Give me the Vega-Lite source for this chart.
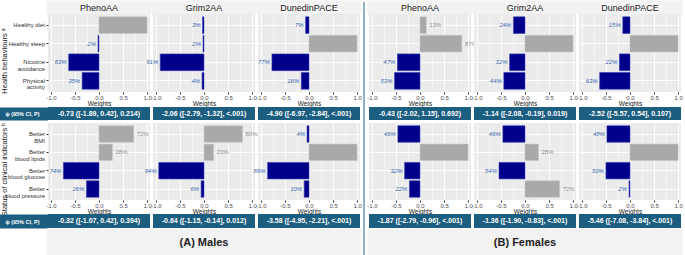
{
"$schema":"https://vega.github.io/schema/vega-lite/v6.json",
"padding":0,
"background":"white",
"config":{
 "font":"Liberation Sans",
 "view":{"stroke":null},
 "axisX":{"grid":true,"gridColor":"#ffffff","domain":false,"tickColor":"#333333","tickSize":2,"labelFontSize":6,"labelColor":"#4d4d4d","labelPadding":0.5,"labelFlush":false,"labelOverlap":false,"titleFontSize":6.5,"titleFontWeight":"normal","titleColor":"#1a1a1a","titlePadding":0},
 "axisY":{"grid":true,"gridColor":"#ffffff","gridWidth":0.9,"domain":false,"tickColor":"#333333","tickSize":2,"labelFontSize":6,"labelColor":"#333333","labelPadding":1.5,"labelLineHeight":6.5,"titleFontWeight":"normal","titleColor":"#1a1a1a","bandPosition":0.5}
},
"datasets":{
 "bars":[
  {"sex":"Males","dom":"HB","clock":"PhenoAA","item":"Healthy diet","w":1.0,"lab":""},
  {"sex":"Males","dom":"HB","clock":"PhenoAA","item":"Healthy sleep","w":-0.02,"lab":"2%"},
  {"sex":"Males","dom":"HB","clock":"PhenoAA","item":"Nicotine\navoidance","w":-0.63,"lab":"63%"},
  {"sex":"Males","dom":"HB","clock":"PhenoAA","item":"Physical\nactivity","w":-0.35,"lab":"35%"},
  {"sex":"Males","dom":"HB","clock":"Grim2AA","item":"Healthy diet","w":-0.03,"lab":"3%"},
  {"sex":"Males","dom":"HB","clock":"Grim2AA","item":"Healthy sleep","w":-0.02,"lab":"2%"},
  {"sex":"Males","dom":"HB","clock":"Grim2AA","item":"Nicotine\navoidance","w":-0.91,"lab":"91%"},
  {"sex":"Males","dom":"HB","clock":"Grim2AA","item":"Physical\nactivity","w":-0.04,"lab":"4%"},
  {"sex":"Males","dom":"HB","clock":"DunedinPACE","item":"Healthy diet","w":-0.07,"lab":"7%"},
  {"sex":"Males","dom":"HB","clock":"DunedinPACE","item":"Healthy sleep","w":1.0,"lab":""},
  {"sex":"Males","dom":"HB","clock":"DunedinPACE","item":"Nicotine\navoidance","w":-0.77,"lab":"77%"},
  {"sex":"Males","dom":"HB","clock":"DunedinPACE","item":"Physical\nactivity","w":-0.16,"lab":"16%"},
  {"sex":"Females","dom":"HB","clock":"PhenoAA","item":"Healthy diet","w":0.13,"lab":"13%"},
  {"sex":"Females","dom":"HB","clock":"PhenoAA","item":"Healthy sleep","w":0.87,"lab":"87%"},
  {"sex":"Females","dom":"HB","clock":"PhenoAA","item":"Nicotine\navoidance","w":-0.47,"lab":"47%"},
  {"sex":"Females","dom":"HB","clock":"PhenoAA","item":"Physical\nactivity","w":-0.53,"lab":"53%"},
  {"sex":"Females","dom":"HB","clock":"Grim2AA","item":"Healthy diet","w":-0.24,"lab":"24%"},
  {"sex":"Females","dom":"HB","clock":"Grim2AA","item":"Healthy sleep","w":1.0,"lab":""},
  {"sex":"Females","dom":"HB","clock":"Grim2AA","item":"Nicotine\navoidance","w":-0.32,"lab":"32%"},
  {"sex":"Females","dom":"HB","clock":"Grim2AA","item":"Physical\nactivity","w":-0.44,"lab":"44%"},
  {"sex":"Females","dom":"HB","clock":"DunedinPACE","item":"Healthy diet","w":-0.15,"lab":"15%"},
  {"sex":"Females","dom":"HB","clock":"DunedinPACE","item":"Healthy sleep","w":1.0,"lab":""},
  {"sex":"Females","dom":"HB","clock":"DunedinPACE","item":"Nicotine\navoidance","w":-0.22,"lab":"22%"},
  {"sex":"Females","dom":"HB","clock":"DunedinPACE","item":"Physical\nactivity","w":-0.63,"lab":"63%"},
  {"sex":"Males","dom":"CI","clock":"PhenoAA","item":"Better\nBMI","w":0.72,"lab":"72%"},
  {"sex":"Males","dom":"CI","clock":"PhenoAA","item":"Better\nblood lipids","w":0.28,"lab":"28%"},
  {"sex":"Males","dom":"CI","clock":"PhenoAA","item":"Better\nblood glucose","w":-0.74,"lab":"74%"},
  {"sex":"Males","dom":"CI","clock":"PhenoAA","item":"Better\nblood pressure","w":-0.26,"lab":"26%"},
  {"sex":"Males","dom":"CI","clock":"Grim2AA","item":"Better\nBMI","w":0.80,"lab":"80%"},
  {"sex":"Males","dom":"CI","clock":"Grim2AA","item":"Better\nblood lipids","w":0.20,"lab":"20%"},
  {"sex":"Males","dom":"CI","clock":"Grim2AA","item":"Better\nblood glucose","w":-0.94,"lab":"94%"},
  {"sex":"Males","dom":"CI","clock":"Grim2AA","item":"Better\nblood pressure","w":-0.06,"lab":"6%"},
  {"sex":"Males","dom":"CI","clock":"DunedinPACE","item":"Better\nBMI","w":-0.04,"lab":"4%"},
  {"sex":"Males","dom":"CI","clock":"DunedinPACE","item":"Better\nblood lipids","w":1.0,"lab":""},
  {"sex":"Males","dom":"CI","clock":"DunedinPACE","item":"Better\nblood glucose","w":-0.86,"lab":"86%"},
  {"sex":"Males","dom":"CI","clock":"DunedinPACE","item":"Better\nblood pressure","w":-0.10,"lab":"10%"},
  {"sex":"Females","dom":"CI","clock":"PhenoAA","item":"Better\nBMI","w":-0.46,"lab":"46%"},
  {"sex":"Females","dom":"CI","clock":"PhenoAA","item":"Better\nblood lipids","w":1.0,"lab":""},
  {"sex":"Females","dom":"CI","clock":"PhenoAA","item":"Better\nblood glucose","w":-0.32,"lab":"32%"},
  {"sex":"Females","dom":"CI","clock":"PhenoAA","item":"Better\nblood pressure","w":-0.22,"lab":"22%"},
  {"sex":"Females","dom":"CI","clock":"Grim2AA","item":"Better\nBMI","w":-0.46,"lab":"46%"},
  {"sex":"Females","dom":"CI","clock":"Grim2AA","item":"Better\nblood lipids","w":0.28,"lab":"28%"},
  {"sex":"Females","dom":"CI","clock":"Grim2AA","item":"Better\nblood glucose","w":-0.54,"lab":"54%"},
  {"sex":"Females","dom":"CI","clock":"Grim2AA","item":"Better\nblood pressure","w":0.72,"lab":"72%"},
  {"sex":"Females","dom":"CI","clock":"DunedinPACE","item":"Better\nBMI","w":-0.48,"lab":"48%"},
  {"sex":"Females","dom":"CI","clock":"DunedinPACE","item":"Better\nblood lipids","w":1.0,"lab":""},
  {"sex":"Females","dom":"CI","clock":"DunedinPACE","item":"Better\nblood glucose","w":-0.50,"lab":"50%"},
  {"sex":"Females","dom":"CI","clock":"DunedinPACE","item":"Better\nblood pressure","w":-0.02,"lab":"2%"}
 ],
 "psi":[
  {"sex":"Males","dom":"HB","clock":"PhenoAA","row":"ψ (95% CI, P)","psi":"-0.73 ([-1.89, 0.42], 0.214)"},
  {"sex":"Males","dom":"HB","clock":"Grim2AA","row":"ψ (95% CI, P)","psi":"-2.06 ([-2.79, -1.32], <.001)"},
  {"sex":"Males","dom":"HB","clock":"DunedinPACE","row":"ψ (95% CI, P)","psi":"-4.90 ([-6.97, -2.84], <.001)"},
  {"sex":"Females","dom":"HB","clock":"PhenoAA","row":"ψ (95% CI, P)","psi":"-0.43 ([-2.02, 1.15], 0.692)"},
  {"sex":"Females","dom":"HB","clock":"Grim2AA","row":"ψ (95% CI, P)","psi":"-1.14 ([-2.08, -0.19], 0.019)"},
  {"sex":"Females","dom":"HB","clock":"DunedinPACE","row":"ψ (95% CI, P)","psi":"-2.52 ([-5.57, 0.54], 0.107)"},
  {"sex":"Males","dom":"CI","clock":"PhenoAA","row":"ψ (95% CI, P)","psi":"-0.32 ([-1.07, 0.42], 0.394)"},
  {"sex":"Males","dom":"CI","clock":"Grim2AA","row":"ψ (95% CI, P)","psi":"-0.64 ([-1.15, -0.14], 0.012)"},
  {"sex":"Males","dom":"CI","clock":"DunedinPACE","row":"ψ (95% CI, P)","psi":"-3.58 ([-4.95, -2.21], <.001)"},
  {"sex":"Females","dom":"CI","clock":"PhenoAA","row":"ψ (95% CI, P)","psi":"-1.87 ([-2.79, -0.96], <.001)"},
  {"sex":"Females","dom":"CI","clock":"Grim2AA","row":"ψ (95% CI, P)","psi":"-1.36 ([-1.90, -0.83], <.001)"},
  {"sex":"Females","dom":"CI","clock":"DunedinPACE","row":"ψ (95% CI, P)","psi":"-5.46 ([-7.08, -3.84], <.001)"}
 ]
},
"spacing":1,
"hconcat":[
 {"columns":3,"align":"each","bounds":"flush","spacing":{"row":1,"column":3},
  "concat":[
   {"width":102,"height":11,"view":{"fill":"#f2f2f2","stroke":"#f2f2f2","strokeWidth":3},"data":{"values":[{"t":"PhenoAA"}]},"mark":{"type":"text","fontSize":9,"color":"#1a1a1a"},"encoding":{"text":{"field":"t"},"x":{"field":"t","type":"nominal","axis":null},"y":{"field":"t","type":"nominal","axis":null}}},
   {"width":102,"height":11,"view":{"fill":"#f2f2f2","stroke":"#f2f2f2","strokeWidth":3},"data":{"values":[{"t":"Grim2AA"}]},"mark":{"type":"text","fontSize":9,"color":"#1a1a1a"},"encoding":{"text":{"field":"t"},"x":{"field":"t","type":"nominal","axis":null},"y":{"field":"t","type":"nominal","axis":null}}},
   {"width":102,"height":11,"view":{"fill":"#f2f2f2","stroke":"#f2f2f2","strokeWidth":3},"data":{"values":[{"t":"DunedinPACE"}]},"mark":{"type":"text","fontSize":9,"color":"#1a1a1a"},"encoding":{"text":{"field":"t"},"x":{"field":"t","type":"nominal","axis":null},"y":{"field":"t","type":"nominal","axis":null}}},

   {"width":102,"height":78,"view":{"fill":"#ebebeb","stroke":null},"data":{"name":"bars"},
    "transform":[{"filter":"datum.sex=='Males' && datum.dom=='HB' && datum.clock=='PhenoAA'"}],
    "encoding":{
     "y":{"field":"item","type":"nominal","sort":null,"scale":{"paddingInner":0.1,"paddingOuter":0.15},"axis":{"title":"Health behaviours ᵃ","titleFontSize":7.5,"titleY":46.5,"titlePadding":0,"minExtent":40,"maxExtent":40,"labelExpr":"split(datum.label,'\\n')"}},
     "x":{"field":"w","type":"quantitative","scale":{"domain":[-1.06,1.06]},"axis":{"values":[-1,-0.75,-0.5,-0.25,0,0.25,0.5,0.75,1],"labelExpr":"datum.value % 0.5 === 0 ? replace(format(datum.value,'.1f'),'\u2212','-') : ''","title":"Weights","gridWidth":{"condition":{"test":"datum.value % 0.5 === 0","value":0.9},"value":0.4},"tickOpacity":{"condition":{"test":"datum.value % 0.5 === 0","value":1},"value":0}}}
    },
    "layer":[
     {"mark":{"type":"bar","strokeWidth":0.6},"encoding":{"color":{"condition":{"test":"datum.w < 0","value":"#00008b"},"value":"#a9a9a9"},"stroke":{"condition":{"test":"datum.w < 0","value":"#3a3ab4"},"value":"#c8c8c8"}}},
     {"transform":[{"filter":"datum.w < 0"}],"mark":{"type":"text","align":"right","baseline":"middle","dx":-2,"fontSize":6,"fontStyle":"italic","color":"#3b67b0"},"encoding":{"text":{"field":"lab"}}},
     {"transform":[{"filter":"datum.w > 0"}],"mark":{"type":"text","align":"left","baseline":"middle","dx":3,"fontSize":6,"color":"#8c8c8c"},"encoding":{"text":{"field":"lab"}}}
    ]},
   {"width":102,"height":78,"view":{"fill":"#ebebeb","stroke":null},"data":{"name":"bars"},
    "transform":[{"filter":"datum.sex=='Males' && datum.dom=='HB' && datum.clock=='Grim2AA'"}],
    "encoding":{
     "y":{"field":"item","type":"nominal","sort":null,"scale":{"paddingInner":0.1,"paddingOuter":0.15},"axis":{"title":null,"labels":false,"ticks":false}},
     "x":{"field":"w","type":"quantitative","scale":{"domain":[-1.06,1.06]},"axis":{"values":[-1,-0.75,-0.5,-0.25,0,0.25,0.5,0.75,1],"labelExpr":"datum.value % 0.5 === 0 ? replace(format(datum.value,'.1f'),'\u2212','-') : ''","title":"Weights","gridWidth":{"condition":{"test":"datum.value % 0.5 === 0","value":0.9},"value":0.4},"tickOpacity":{"condition":{"test":"datum.value % 0.5 === 0","value":1},"value":0}}}
    },
    "layer":[
     {"mark":{"type":"bar","strokeWidth":0.6},"encoding":{"color":{"condition":{"test":"datum.w < 0","value":"#00008b"},"value":"#a9a9a9"},"stroke":{"condition":{"test":"datum.w < 0","value":"#3a3ab4"},"value":"#c8c8c8"}}},
     {"transform":[{"filter":"datum.w < 0"}],"mark":{"type":"text","align":"right","baseline":"middle","dx":-2,"fontSize":6,"fontStyle":"italic","color":"#3b67b0"},"encoding":{"text":{"field":"lab"}}},
     {"transform":[{"filter":"datum.w > 0"}],"mark":{"type":"text","align":"left","baseline":"middle","dx":3,"fontSize":6,"color":"#8c8c8c"},"encoding":{"text":{"field":"lab"}}}
    ]},
   {"width":102,"height":78,"view":{"fill":"#ebebeb","stroke":null},"data":{"name":"bars"},
    "transform":[{"filter":"datum.sex=='Males' && datum.dom=='HB' && datum.clock=='DunedinPACE'"}],
    "encoding":{
     "y":{"field":"item","type":"nominal","sort":null,"scale":{"paddingInner":0.1,"paddingOuter":0.15},"axis":{"title":null,"labels":false,"ticks":false}},
     "x":{"field":"w","type":"quantitative","scale":{"domain":[-1.06,1.06]},"axis":{"values":[-1,-0.75,-0.5,-0.25,0,0.25,0.5,0.75,1],"labelExpr":"datum.value % 0.5 === 0 ? replace(format(datum.value,'.1f'),'\u2212','-') : ''","title":"Weights","gridWidth":{"condition":{"test":"datum.value % 0.5 === 0","value":0.9},"value":0.4},"tickOpacity":{"condition":{"test":"datum.value % 0.5 === 0","value":1},"value":0}}}
    },
    "layer":[
     {"mark":{"type":"bar","strokeWidth":0.6},"encoding":{"color":{"condition":{"test":"datum.w < 0","value":"#00008b"},"value":"#a9a9a9"},"stroke":{"condition":{"test":"datum.w < 0","value":"#3a3ab4"},"value":"#c8c8c8"}}},
     {"transform":[{"filter":"datum.w < 0"}],"mark":{"type":"text","align":"right","baseline":"middle","dx":-2,"fontSize":6,"fontStyle":"italic","color":"#3b67b0"},"encoding":{"text":{"field":"lab"}}},
     {"transform":[{"filter":"datum.w > 0"}],"mark":{"type":"text","align":"left","baseline":"middle","dx":3,"fontSize":6,"color":"#8c8c8c"},"encoding":{"text":{"field":"lab"}}}
    ]},

   {"width":102,"height":29,"data":{"name":"psi"},"transform":[{"filter":"datum.sex=='Males' && datum.dom=='HB' && datum.clock=='PhenoAA'"}],
    "encoding":{"y":{"field":"row","type":"nominal","scale":{"range":[14,27],"paddingInner":0,"paddingOuter":0},"axis":{"domain":true,"domainColor":"#1b5e80","domainWidth":51,"offset":26,"labels":false,"ticks":false,"grid":false,"title":"ψ (95% CI, P)","titleAngle":0,"titleX":0,"titleY":20.5,"titleAlign":"center","titleBaseline":"middle","titleColor":"#ffffff","titleFontSize":5.5,"titleFontWeight":"bold"}}},
    "layer":[{"mark":{"type":"rect","color":"#1b5e80"}},{"mark":{"type":"text","color":"#ffffff","fontSize":7,"fontWeight":"bold"},"encoding":{"text":{"field":"psi"}}}]},
   {"width":102,"height":29,"data":{"name":"psi"},"transform":[{"filter":"datum.sex=='Males' && datum.dom=='HB' && datum.clock=='Grim2AA'"}],
    "encoding":{"y":{"field":"row","type":"nominal","scale":{"range":[14,27],"paddingInner":0,"paddingOuter":0},"axis":null}},
    "layer":[{"mark":{"type":"rect","color":"#1b5e80"}},{"mark":{"type":"text","color":"#ffffff","fontSize":7,"fontWeight":"bold"},"encoding":{"text":{"field":"psi"}}}]},
   {"width":102,"height":29,"data":{"name":"psi"},"transform":[{"filter":"datum.sex=='Males' && datum.dom=='HB' && datum.clock=='DunedinPACE'"}],
    "encoding":{"y":{"field":"row","type":"nominal","scale":{"range":[14,27],"paddingInner":0,"paddingOuter":0},"axis":null}},
    "layer":[{"mark":{"type":"rect","color":"#1b5e80"}},{"mark":{"type":"text","color":"#ffffff","fontSize":7,"fontWeight":"bold"},"encoding":{"text":{"field":"psi"}}}]},

   {"width":102,"height":77,"view":{"fill":"#ebebeb","stroke":null},"data":{"name":"bars"},
    "transform":[{"filter":"datum.sex=='Males' && datum.dom=='CI' && datum.clock=='PhenoAA'"}],
    "encoding":{
     "y":{"field":"item","type":"nominal","sort":null,"scale":{"paddingInner":0.1,"paddingOuter":0.15},"axis":{"title":"Status of clinical indicators ᵇ","titleFontSize":7.5,"titleY":46,"titlePadding":0,"minExtent":40,"maxExtent":40,"labelExpr":"split(datum.label,'\\n')"}},
     "x":{"field":"w","type":"quantitative","scale":{"domain":[-1.06,1.06]},"axis":{"values":[-1,-0.75,-0.5,-0.25,0,0.25,0.5,0.75,1],"labelExpr":"datum.value % 0.5 === 0 ? replace(format(datum.value,'.1f'),'\u2212','-') : ''","title":"Weights","gridWidth":{"condition":{"test":"datum.value % 0.5 === 0","value":0.9},"value":0.4},"tickOpacity":{"condition":{"test":"datum.value % 0.5 === 0","value":1},"value":0}}}
    },
    "layer":[
     {"mark":{"type":"bar","strokeWidth":0.6},"encoding":{"color":{"condition":{"test":"datum.w < 0","value":"#00008b"},"value":"#a9a9a9"},"stroke":{"condition":{"test":"datum.w < 0","value":"#3a3ab4"},"value":"#c8c8c8"}}},
     {"transform":[{"filter":"datum.w < 0"}],"mark":{"type":"text","align":"right","baseline":"middle","dx":-2,"fontSize":6,"fontStyle":"italic","color":"#3b67b0"},"encoding":{"text":{"field":"lab"}}},
     {"transform":[{"filter":"datum.w > 0"}],"mark":{"type":"text","align":"left","baseline":"middle","dx":3,"fontSize":6,"color":"#8c8c8c"},"encoding":{"text":{"field":"lab"}}}
    ]},
   {"width":102,"height":77,"view":{"fill":"#ebebeb","stroke":null},"data":{"name":"bars"},
    "transform":[{"filter":"datum.sex=='Males' && datum.dom=='CI' && datum.clock=='Grim2AA'"}],
    "encoding":{
     "y":{"field":"item","type":"nominal","sort":null,"scale":{"paddingInner":0.1,"paddingOuter":0.15},"axis":{"title":null,"labels":false,"ticks":false}},
     "x":{"field":"w","type":"quantitative","scale":{"domain":[-1.06,1.06]},"axis":{"values":[-1,-0.75,-0.5,-0.25,0,0.25,0.5,0.75,1],"labelExpr":"datum.value % 0.5 === 0 ? replace(format(datum.value,'.1f'),'\u2212','-') : ''","title":"Weights","gridWidth":{"condition":{"test":"datum.value % 0.5 === 0","value":0.9},"value":0.4},"tickOpacity":{"condition":{"test":"datum.value % 0.5 === 0","value":1},"value":0}}}
    },
    "layer":[
     {"mark":{"type":"bar","strokeWidth":0.6},"encoding":{"color":{"condition":{"test":"datum.w < 0","value":"#00008b"},"value":"#a9a9a9"},"stroke":{"condition":{"test":"datum.w < 0","value":"#3a3ab4"},"value":"#c8c8c8"}}},
     {"transform":[{"filter":"datum.w < 0"}],"mark":{"type":"text","align":"right","baseline":"middle","dx":-2,"fontSize":6,"fontStyle":"italic","color":"#3b67b0"},"encoding":{"text":{"field":"lab"}}},
     {"transform":[{"filter":"datum.w > 0"}],"mark":{"type":"text","align":"left","baseline":"middle","dx":3,"fontSize":6,"color":"#8c8c8c"},"encoding":{"text":{"field":"lab"}}}
    ]},
   {"width":102,"height":77,"view":{"fill":"#ebebeb","stroke":null},"data":{"name":"bars"},
    "transform":[{"filter":"datum.sex=='Males' && datum.dom=='CI' && datum.clock=='DunedinPACE'"}],
    "encoding":{
     "y":{"field":"item","type":"nominal","sort":null,"scale":{"paddingInner":0.1,"paddingOuter":0.15},"axis":{"title":null,"labels":false,"ticks":false}},
     "x":{"field":"w","type":"quantitative","scale":{"domain":[-1.06,1.06]},"axis":{"values":[-1,-0.75,-0.5,-0.25,0,0.25,0.5,0.75,1],"labelExpr":"datum.value % 0.5 === 0 ? replace(format(datum.value,'.1f'),'\u2212','-') : ''","title":"Weights","gridWidth":{"condition":{"test":"datum.value % 0.5 === 0","value":0.9},"value":0.4},"tickOpacity":{"condition":{"test":"datum.value % 0.5 === 0","value":1},"value":0}}}
    },
    "layer":[
     {"mark":{"type":"bar","strokeWidth":0.6},"encoding":{"color":{"condition":{"test":"datum.w < 0","value":"#00008b"},"value":"#a9a9a9"},"stroke":{"condition":{"test":"datum.w < 0","value":"#3a3ab4"},"value":"#c8c8c8"}}},
     {"transform":[{"filter":"datum.w < 0"}],"mark":{"type":"text","align":"right","baseline":"middle","dx":-2,"fontSize":6,"fontStyle":"italic","color":"#3b67b0"},"encoding":{"text":{"field":"lab"}}},
     {"transform":[{"filter":"datum.w > 0"}],"mark":{"type":"text","align":"left","baseline":"middle","dx":3,"fontSize":6,"color":"#8c8c8c"},"encoding":{"text":{"field":"lab"}}}
    ]},

   {"width":102,"height":28,"data":{"name":"psi"},"transform":[{"filter":"datum.sex=='Males' && datum.dom=='CI' && datum.clock=='PhenoAA'"}],
    "encoding":{"y":{"field":"row","type":"nominal","scale":{"range":[13,27],"paddingInner":0,"paddingOuter":0},"axis":{"domain":true,"domainColor":"#1b5e80","domainWidth":51,"offset":26,"labels":false,"ticks":false,"grid":false,"title":"ψ (95% CI, P)","titleAngle":0,"titleX":0,"titleY":20,"titleAlign":"center","titleBaseline":"middle","titleColor":"#ffffff","titleFontSize":5.5,"titleFontWeight":"bold"}}},
    "layer":[{"mark":{"type":"rect","color":"#1b5e80"}},{"mark":{"type":"text","color":"#ffffff","fontSize":7,"fontWeight":"bold"},"encoding":{"text":{"field":"psi"}}}]},
   {"width":102,"height":28,"data":{"name":"psi"},"transform":[{"filter":"datum.sex=='Males' && datum.dom=='CI' && datum.clock=='Grim2AA'"}],
    "encoding":{"y":{"field":"row","type":"nominal","scale":{"range":[13,27],"paddingInner":0,"paddingOuter":0},"axis":null}},
    "layer":[{"mark":{"type":"rect","color":"#1b5e80"}},{"mark":{"type":"text","color":"#ffffff","fontSize":7,"fontWeight":"bold"},"encoding":{"text":{"field":"psi"}}}]},
   {"width":102,"height":28,"data":{"name":"psi"},"transform":[{"filter":"datum.sex=='Males' && datum.dom=='CI' && datum.clock=='DunedinPACE'"}],
    "encoding":{"y":{"field":"row","type":"nominal","scale":{"range":[13,27],"paddingInner":0,"paddingOuter":0},"axis":null}},
    "layer":[{"mark":{"type":"rect","color":"#1b5e80"}},{"mark":{"type":"text","color":"#ffffff","fontSize":7,"fontWeight":"bold"},"encoding":{"text":{"field":"psi"}}}]},

   {"width":102,"height":26,"view":{"fill":"#f2f2f2","stroke":"#f2f2f2","strokeWidth":3},"data":{"values":[{"t":""}]},"mark":{"type":"text","fontSize":11,"fontWeight":"bold","color":"#222222"},"encoding":{"text":{"field":"t"},"x":{"field":"t","type":"nominal","axis":null},"y":{"field":"t","type":"nominal","axis":null}}},
   {"width":102,"height":26,"view":{"fill":"#f2f2f2","stroke":"#f2f2f2","strokeWidth":3},"data":{"values":[{"t":"(A) Males"}]},"mark":{"type":"text","fontSize":11,"fontWeight":"bold","color":"#222222"},"encoding":{"text":{"field":"t"},"x":{"field":"t","type":"nominal","axis":null},"y":{"field":"t","type":"nominal","axis":null}}},
   {"width":102,"height":26,"view":{"fill":"#f2f2f2","stroke":"#f2f2f2","strokeWidth":3},"data":{"values":[{"t":""}]},"mark":{"type":"text","fontSize":11,"fontWeight":"bold","color":"#222222"},"encoding":{"text":{"field":"t"},"x":{"field":"t","type":"nominal","axis":null},"y":{"field":"t","type":"nominal","axis":null}}}
  ]},

 {"width":2,"height":255,"view":{"fill":"#8fb1c4","stroke":null},"data":{"values":[{"t":""}]},"mark":{"type":"text"},"encoding":{"text":{"field":"t"}}},

 {"columns":3,"align":"each","bounds":"flush","spacing":{"row":1,"column":3},
  "concat":[
   {"width":102,"height":11,"view":{"fill":"#f2f2f2","stroke":"#f2f2f2","strokeWidth":3},"data":{"values":[{"t":"PhenoAA"}]},"mark":{"type":"text","fontSize":9,"color":"#1a1a1a"},"encoding":{"text":{"field":"t"},"x":{"field":"t","type":"nominal","axis":null},"y":{"field":"t","type":"nominal","axis":null}}},
   {"width":102,"height":11,"view":{"fill":"#f2f2f2","stroke":"#f2f2f2","strokeWidth":3},"data":{"values":[{"t":"Grim2AA"}]},"mark":{"type":"text","fontSize":9,"color":"#1a1a1a"},"encoding":{"text":{"field":"t"},"x":{"field":"t","type":"nominal","axis":null},"y":{"field":"t","type":"nominal","axis":null}}},
   {"width":102,"height":11,"view":{"fill":"#f2f2f2","stroke":"#f2f2f2","strokeWidth":3},"data":{"values":[{"t":"DunedinPACE"}]},"mark":{"type":"text","fontSize":9,"color":"#1a1a1a"},"encoding":{"text":{"field":"t"},"x":{"field":"t","type":"nominal","axis":null},"y":{"field":"t","type":"nominal","axis":null}}},

   {"width":102,"height":78,"view":{"fill":"#ebebeb","stroke":null},"data":{"name":"bars"},
    "transform":[{"filter":"datum.sex=='Females' && datum.dom=='HB' && datum.clock=='PhenoAA'"}],
    "encoding":{
     "y":{"field":"item","type":"nominal","sort":null,"scale":{"paddingInner":0.1,"paddingOuter":0.15},"axis":{"title":null,"labels":false,"ticks":false}},
     "x":{"field":"w","type":"quantitative","scale":{"domain":[-1.06,1.06]},"axis":{"values":[-1,-0.75,-0.5,-0.25,0,0.25,0.5,0.75,1],"labelExpr":"datum.value % 0.5 === 0 ? replace(format(datum.value,'.1f'),'\u2212','-') : ''","title":"Weights","gridWidth":{"condition":{"test":"datum.value % 0.5 === 0","value":0.9},"value":0.4},"tickOpacity":{"condition":{"test":"datum.value % 0.5 === 0","value":1},"value":0}}}
    },
    "layer":[
     {"mark":{"type":"bar","strokeWidth":0.6},"encoding":{"color":{"condition":{"test":"datum.w < 0","value":"#00008b"},"value":"#a9a9a9"},"stroke":{"condition":{"test":"datum.w < 0","value":"#3a3ab4"},"value":"#c8c8c8"}}},
     {"transform":[{"filter":"datum.w < 0"}],"mark":{"type":"text","align":"right","baseline":"middle","dx":-2,"fontSize":6,"fontStyle":"italic","color":"#3b67b0"},"encoding":{"text":{"field":"lab"}}},
     {"transform":[{"filter":"datum.w > 0"}],"mark":{"type":"text","align":"left","baseline":"middle","dx":3,"fontSize":6,"color":"#8c8c8c"},"encoding":{"text":{"field":"lab"}}}
    ]},
   {"width":102,"height":78,"view":{"fill":"#ebebeb","stroke":null},"data":{"name":"bars"},
    "transform":[{"filter":"datum.sex=='Females' && datum.dom=='HB' && datum.clock=='Grim2AA'"}],
    "encoding":{
     "y":{"field":"item","type":"nominal","sort":null,"scale":{"paddingInner":0.1,"paddingOuter":0.15},"axis":{"title":null,"labels":false,"ticks":false}},
     "x":{"field":"w","type":"quantitative","scale":{"domain":[-1.06,1.06]},"axis":{"values":[-1,-0.75,-0.5,-0.25,0,0.25,0.5,0.75,1],"labelExpr":"datum.value % 0.5 === 0 ? replace(format(datum.value,'.1f'),'\u2212','-') : ''","title":"Weights","gridWidth":{"condition":{"test":"datum.value % 0.5 === 0","value":0.9},"value":0.4},"tickOpacity":{"condition":{"test":"datum.value % 0.5 === 0","value":1},"value":0}}}
    },
    "layer":[
     {"mark":{"type":"bar","strokeWidth":0.6},"encoding":{"color":{"condition":{"test":"datum.w < 0","value":"#00008b"},"value":"#a9a9a9"},"stroke":{"condition":{"test":"datum.w < 0","value":"#3a3ab4"},"value":"#c8c8c8"}}},
     {"transform":[{"filter":"datum.w < 0"}],"mark":{"type":"text","align":"right","baseline":"middle","dx":-2,"fontSize":6,"fontStyle":"italic","color":"#3b67b0"},"encoding":{"text":{"field":"lab"}}},
     {"transform":[{"filter":"datum.w > 0"}],"mark":{"type":"text","align":"left","baseline":"middle","dx":3,"fontSize":6,"color":"#8c8c8c"},"encoding":{"text":{"field":"lab"}}}
    ]},
   {"width":102,"height":78,"view":{"fill":"#ebebeb","stroke":null},"data":{"name":"bars"},
    "transform":[{"filter":"datum.sex=='Females' && datum.dom=='HB' && datum.clock=='DunedinPACE'"}],
    "encoding":{
     "y":{"field":"item","type":"nominal","sort":null,"scale":{"paddingInner":0.1,"paddingOuter":0.15},"axis":{"title":null,"labels":false,"ticks":false}},
     "x":{"field":"w","type":"quantitative","scale":{"domain":[-1.06,1.06]},"axis":{"values":[-1,-0.75,-0.5,-0.25,0,0.25,0.5,0.75,1],"labelExpr":"datum.value % 0.5 === 0 ? replace(format(datum.value,'.1f'),'\u2212','-') : ''","title":"Weights","gridWidth":{"condition":{"test":"datum.value % 0.5 === 0","value":0.9},"value":0.4},"tickOpacity":{"condition":{"test":"datum.value % 0.5 === 0","value":1},"value":0}}}
    },
    "layer":[
     {"mark":{"type":"bar","strokeWidth":0.6},"encoding":{"color":{"condition":{"test":"datum.w < 0","value":"#00008b"},"value":"#a9a9a9"},"stroke":{"condition":{"test":"datum.w < 0","value":"#3a3ab4"},"value":"#c8c8c8"}}},
     {"transform":[{"filter":"datum.w < 0"}],"mark":{"type":"text","align":"right","baseline":"middle","dx":-2,"fontSize":6,"fontStyle":"italic","color":"#3b67b0"},"encoding":{"text":{"field":"lab"}}},
     {"transform":[{"filter":"datum.w > 0"}],"mark":{"type":"text","align":"left","baseline":"middle","dx":3,"fontSize":6,"color":"#8c8c8c"},"encoding":{"text":{"field":"lab"}}}
    ]},

   {"width":102,"height":29,"data":{"name":"psi"},"transform":[{"filter":"datum.sex=='Females' && datum.dom=='HB' && datum.clock=='PhenoAA'"}],
    "encoding":{"y":{"field":"row","type":"nominal","scale":{"range":[14,27],"paddingInner":0,"paddingOuter":0},"axis":null}},
    "layer":[{"mark":{"type":"rect","color":"#1b5e80"}},{"mark":{"type":"text","color":"#ffffff","fontSize":7,"fontWeight":"bold"},"encoding":{"text":{"field":"psi"}}}]},
   {"width":102,"height":29,"data":{"name":"psi"},"transform":[{"filter":"datum.sex=='Females' && datum.dom=='HB' && datum.clock=='Grim2AA'"}],
    "encoding":{"y":{"field":"row","type":"nominal","scale":{"range":[14,27],"paddingInner":0,"paddingOuter":0},"axis":null}},
    "layer":[{"mark":{"type":"rect","color":"#1b5e80"}},{"mark":{"type":"text","color":"#ffffff","fontSize":7,"fontWeight":"bold"},"encoding":{"text":{"field":"psi"}}}]},
   {"width":102,"height":29,"data":{"name":"psi"},"transform":[{"filter":"datum.sex=='Females' && datum.dom=='HB' && datum.clock=='DunedinPACE'"}],
    "encoding":{"y":{"field":"row","type":"nominal","scale":{"range":[14,27],"paddingInner":0,"paddingOuter":0},"axis":null}},
    "layer":[{"mark":{"type":"rect","color":"#1b5e80"}},{"mark":{"type":"text","color":"#ffffff","fontSize":7,"fontWeight":"bold"},"encoding":{"text":{"field":"psi"}}}]},

   {"width":102,"height":77,"view":{"fill":"#ebebeb","stroke":null},"data":{"name":"bars"},
    "transform":[{"filter":"datum.sex=='Females' && datum.dom=='CI' && datum.clock=='PhenoAA'"}],
    "encoding":{
     "y":{"field":"item","type":"nominal","sort":null,"scale":{"paddingInner":0.1,"paddingOuter":0.15},"axis":{"title":null,"labels":false,"ticks":false}},
     "x":{"field":"w","type":"quantitative","scale":{"domain":[-1.06,1.06]},"axis":{"values":[-1,-0.75,-0.5,-0.25,0,0.25,0.5,0.75,1],"labelExpr":"datum.value % 0.5 === 0 ? replace(format(datum.value,'.1f'),'\u2212','-') : ''","title":"Weights","gridWidth":{"condition":{"test":"datum.value % 0.5 === 0","value":0.9},"value":0.4},"tickOpacity":{"condition":{"test":"datum.value % 0.5 === 0","value":1},"value":0}}}
    },
    "layer":[
     {"mark":{"type":"bar","strokeWidth":0.6},"encoding":{"color":{"condition":{"test":"datum.w < 0","value":"#00008b"},"value":"#a9a9a9"},"stroke":{"condition":{"test":"datum.w < 0","value":"#3a3ab4"},"value":"#c8c8c8"}}},
     {"transform":[{"filter":"datum.w < 0"}],"mark":{"type":"text","align":"right","baseline":"middle","dx":-2,"fontSize":6,"fontStyle":"italic","color":"#3b67b0"},"encoding":{"text":{"field":"lab"}}},
     {"transform":[{"filter":"datum.w > 0"}],"mark":{"type":"text","align":"left","baseline":"middle","dx":3,"fontSize":6,"color":"#8c8c8c"},"encoding":{"text":{"field":"lab"}}}
    ]},
   {"width":102,"height":77,"view":{"fill":"#ebebeb","stroke":null},"data":{"name":"bars"},
    "transform":[{"filter":"datum.sex=='Females' && datum.dom=='CI' && datum.clock=='Grim2AA'"}],
    "encoding":{
     "y":{"field":"item","type":"nominal","sort":null,"scale":{"paddingInner":0.1,"paddingOuter":0.15},"axis":{"title":null,"labels":false,"ticks":false}},
     "x":{"field":"w","type":"quantitative","scale":{"domain":[-1.06,1.06]},"axis":{"values":[-1,-0.75,-0.5,-0.25,0,0.25,0.5,0.75,1],"labelExpr":"datum.value % 0.5 === 0 ? replace(format(datum.value,'.1f'),'\u2212','-') : ''","title":"Weights","gridWidth":{"condition":{"test":"datum.value % 0.5 === 0","value":0.9},"value":0.4},"tickOpacity":{"condition":{"test":"datum.value % 0.5 === 0","value":1},"value":0}}}
    },
    "layer":[
     {"mark":{"type":"bar","strokeWidth":0.6},"encoding":{"color":{"condition":{"test":"datum.w < 0","value":"#00008b"},"value":"#a9a9a9"},"stroke":{"condition":{"test":"datum.w < 0","value":"#3a3ab4"},"value":"#c8c8c8"}}},
     {"transform":[{"filter":"datum.w < 0"}],"mark":{"type":"text","align":"right","baseline":"middle","dx":-2,"fontSize":6,"fontStyle":"italic","color":"#3b67b0"},"encoding":{"text":{"field":"lab"}}},
     {"transform":[{"filter":"datum.w > 0"}],"mark":{"type":"text","align":"left","baseline":"middle","dx":3,"fontSize":6,"color":"#8c8c8c"},"encoding":{"text":{"field":"lab"}}}
    ]},
   {"width":102,"height":77,"view":{"fill":"#ebebeb","stroke":null},"data":{"name":"bars"},
    "transform":[{"filter":"datum.sex=='Females' && datum.dom=='CI' && datum.clock=='DunedinPACE'"}],
    "encoding":{
     "y":{"field":"item","type":"nominal","sort":null,"scale":{"paddingInner":0.1,"paddingOuter":0.15},"axis":{"title":null,"labels":false,"ticks":false}},
     "x":{"field":"w","type":"quantitative","scale":{"domain":[-1.06,1.06]},"axis":{"values":[-1,-0.75,-0.5,-0.25,0,0.25,0.5,0.75,1],"labelExpr":"datum.value % 0.5 === 0 ? replace(format(datum.value,'.1f'),'\u2212','-') : ''","title":"Weights","gridWidth":{"condition":{"test":"datum.value % 0.5 === 0","value":0.9},"value":0.4},"tickOpacity":{"condition":{"test":"datum.value % 0.5 === 0","value":1},"value":0}}}
    },
    "layer":[
     {"mark":{"type":"bar","strokeWidth":0.6},"encoding":{"color":{"condition":{"test":"datum.w < 0","value":"#00008b"},"value":"#a9a9a9"},"stroke":{"condition":{"test":"datum.w < 0","value":"#3a3ab4"},"value":"#c8c8c8"}}},
     {"transform":[{"filter":"datum.w < 0"}],"mark":{"type":"text","align":"right","baseline":"middle","dx":-2,"fontSize":6,"fontStyle":"italic","color":"#3b67b0"},"encoding":{"text":{"field":"lab"}}},
     {"transform":[{"filter":"datum.w > 0"}],"mark":{"type":"text","align":"left","baseline":"middle","dx":3,"fontSize":6,"color":"#8c8c8c"},"encoding":{"text":{"field":"lab"}}}
    ]},

   {"width":102,"height":28,"data":{"name":"psi"},"transform":[{"filter":"datum.sex=='Females' && datum.dom=='CI' && datum.clock=='PhenoAA'"}],
    "encoding":{"y":{"field":"row","type":"nominal","scale":{"range":[13,27],"paddingInner":0,"paddingOuter":0},"axis":null}},
    "layer":[{"mark":{"type":"rect","color":"#1b5e80"}},{"mark":{"type":"text","color":"#ffffff","fontSize":7,"fontWeight":"bold"},"encoding":{"text":{"field":"psi"}}}]},
   {"width":102,"height":28,"data":{"name":"psi"},"transform":[{"filter":"datum.sex=='Females' && datum.dom=='CI' && datum.clock=='Grim2AA'"}],
    "encoding":{"y":{"field":"row","type":"nominal","scale":{"range":[13,27],"paddingInner":0,"paddingOuter":0},"axis":null}},
    "layer":[{"mark":{"type":"rect","color":"#1b5e80"}},{"mark":{"type":"text","color":"#ffffff","fontSize":7,"fontWeight":"bold"},"encoding":{"text":{"field":"psi"}}}]},
   {"width":102,"height":28,"data":{"name":"psi"},"transform":[{"filter":"datum.sex=='Females' && datum.dom=='CI' && datum.clock=='DunedinPACE'"}],
    "encoding":{"y":{"field":"row","type":"nominal","scale":{"range":[13,27],"paddingInner":0,"paddingOuter":0},"axis":null}},
    "layer":[{"mark":{"type":"rect","color":"#1b5e80"}},{"mark":{"type":"text","color":"#ffffff","fontSize":7,"fontWeight":"bold"},"encoding":{"text":{"field":"psi"}}}]},

   {"width":102,"height":26,"view":{"fill":"#f2f2f2","stroke":"#f2f2f2","strokeWidth":3},"data":{"values":[{"t":""}]},"mark":{"type":"text","fontSize":11,"fontWeight":"bold","color":"#222222"},"encoding":{"text":{"field":"t"},"x":{"field":"t","type":"nominal","axis":null},"y":{"field":"t","type":"nominal","axis":null}}},
   {"width":102,"height":26,"view":{"fill":"#f2f2f2","stroke":"#f2f2f2","strokeWidth":3},"data":{"values":[{"t":"(B) Females"}]},"mark":{"type":"text","fontSize":11,"fontWeight":"bold","color":"#222222"},"encoding":{"text":{"field":"t"},"x":{"field":"t","type":"nominal","axis":null},"y":{"field":"t","type":"nominal","axis":null}}},
   {"width":102,"height":26,"view":{"fill":"#f2f2f2","stroke":"#f2f2f2","strokeWidth":3},"data":{"values":[{"t":""}]},"mark":{"type":"text","fontSize":11,"fontWeight":"bold","color":"#222222"},"encoding":{"text":{"field":"t"},"x":{"field":"t","type":"nominal","axis":null},"y":{"field":"t","type":"nominal","axis":null}}}
  ]}
]
}
